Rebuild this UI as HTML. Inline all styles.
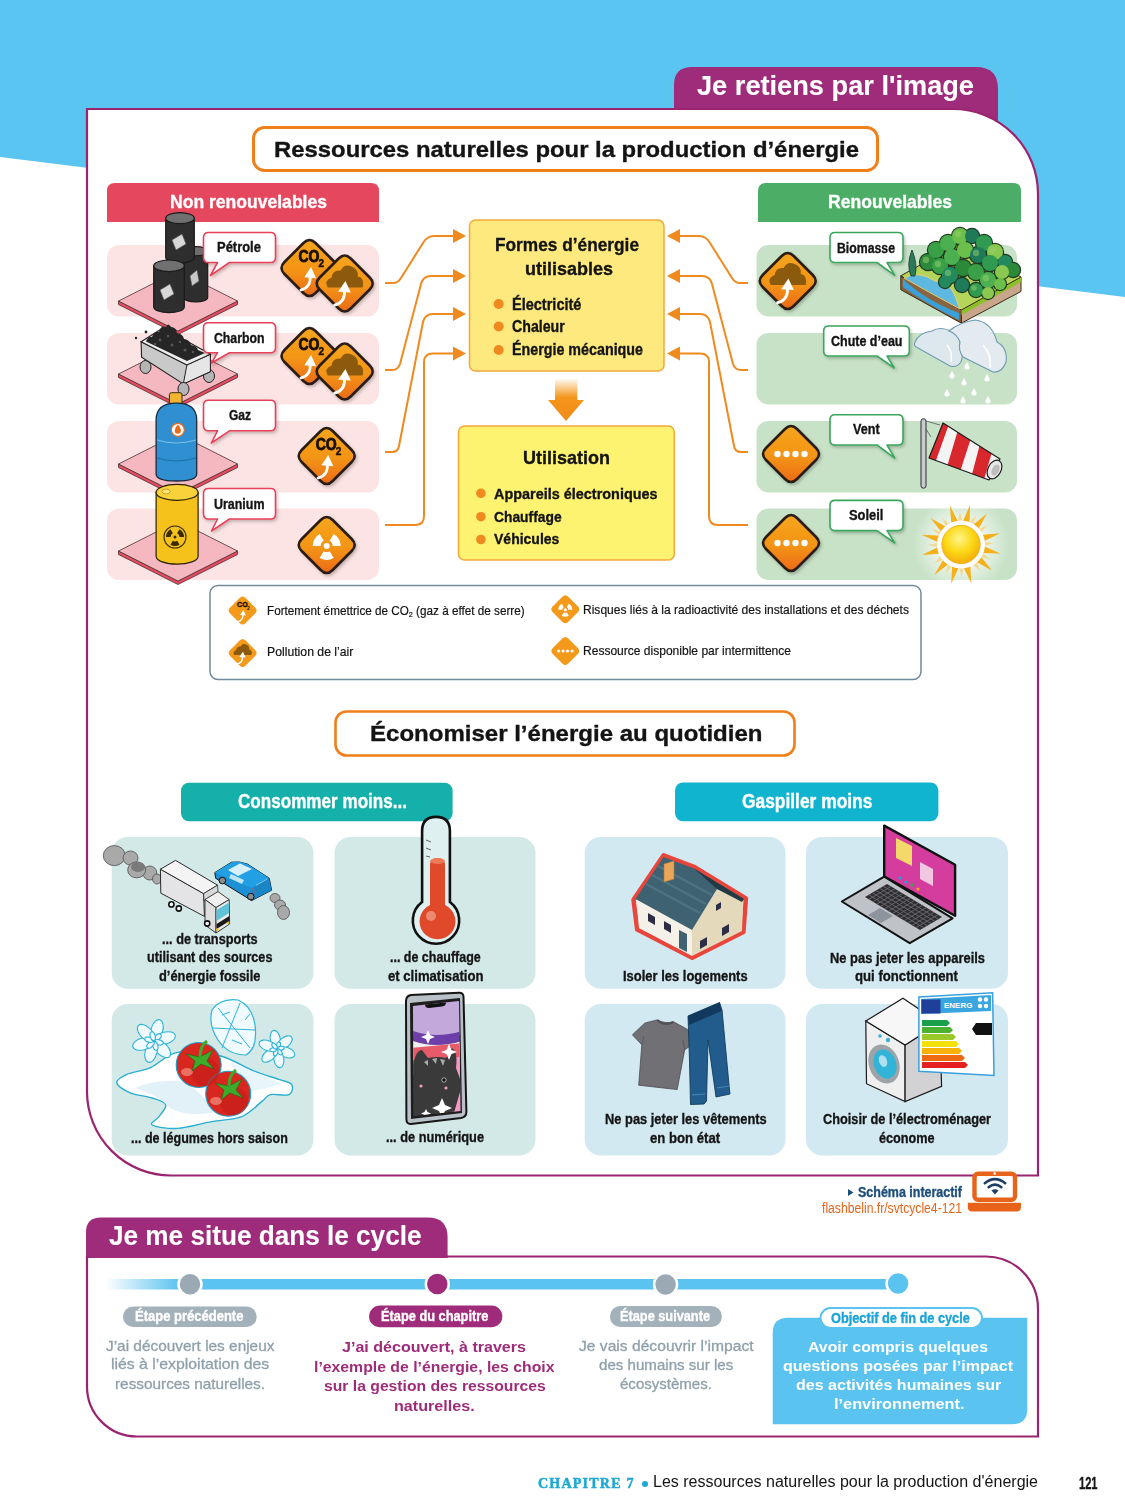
<!DOCTYPE html>
<html><head><meta charset="utf-8">
<style>
*{margin:0;padding:0;box-sizing:border-box}
html,body{width:1125px;height:1500px;overflow:hidden;background:#fff}
body{position:relative;font-family:"Liberation Sans",sans-serif;color:#141414}
.a{position:absolute}
.t{position:absolute;white-space:nowrap;font-weight:bold;line-height:1;transform-origin:0 0;-webkit-text-stroke:0.35px currentColor}
.r{-webkit-text-stroke:0}
.w{color:#fff}
.r{font-weight:normal}
</style></head><body>
<svg class="a" style="left:0;top:0" width="1125" height="1500" viewBox="0 0 1125 1500">
<defs>
  <filter id="sh" x="-20%" y="-20%" width="150%" height="150%"><feDropShadow dx="1.5" dy="2" stdDeviation="1.5" flood-color="#000" flood-opacity="0.22"></feDropShadow></filter>
  <linearGradient id="og" x1="0" y1="0" x2="0" y2="1">
    <stop offset="0" stop-color="#f7a51c"></stop><stop offset="0.55" stop-color="#f39416"></stop><stop offset="1" stop-color="#ec6a12"></stop>
  </linearGradient>
  <linearGradient id="arrg" x1="0" y1="0" x2="0" y2="1">
    <stop offset="0" stop-color="#f4961c" stop-opacity="0"></stop><stop offset="0.45" stop-color="#f4961c"></stop><stop offset="1" stop-color="#f08a18"></stop>
  </linearGradient>
  <linearGradient id="lineg" x1="0" y1="0" x2="1" y2="0">
    <stop offset="0" stop-color="#5bc3ef" stop-opacity="0"></stop><stop offset="1" stop-color="#5bc3ef"></stop>
  </linearGradient>
  <!-- diamond badge 28 half diag, centered at 0,0 -->
  <g id="dia">
    <path d="M0,-28 Q3,-28 6,-25 L25,-6 Q28,-3 28,0 Q28,3 25,6 L6,25 Q3,28 0,28 Q-3,28 -6,25 L-25,6 Q-28,3 -28,0 Q-28,-3 -25,-6 L-6,-25 Q-3,-28 0,-28Z" fill="url(#og)" stroke="#2a1c12" stroke-width="2.6"></path>
  </g>
  <g id="diaf">
    <path d="M0,-28 Q3,-28 6,-25 L25,-6 Q28,-3 28,0 Q28,3 25,6 L6,25 Q3,28 0,28 Q-3,28 -6,25 L-25,6 Q-28,3 -28,0 Q-28,-3 -25,-6 L-6,-25 Q-3,-28 0,-28Z" fill="#f39a1a"></path>
  </g>
  <g id="arrowup">
    <path d="M-9,13 Q3,10 2,-4" fill="none" stroke="#fff" stroke-width="3.2" stroke-linecap="round"></path>
    <path d="M-5,-2 L3,-14 L9,-1Z" fill="#fff"></path>
  </g>
  <g id="cloud">
    <path d="M-17,4 Q-21,-3 -13,-6 Q-12,-14 -4,-13 Q0,-21 9,-16 Q14,-13 13,-7 Q20,-6 18,4Z" fill="#8c5a0c"></path>
  </g>
  <g id="b-co2">
    <use href="#dia"></use>
    <text x="-11" y="-6" font-family="Liberation Sans" font-weight="bold" font-size="16" fill="#1a1208" stroke="#1a1208" stroke-width="0.9" textLength="21" lengthAdjust="spacingAndGlyphs">CO</text>
    <text x="9" y="-1.5" font-family="Liberation Sans" font-weight="bold" font-size="10" fill="#1a1208" stroke="#1a1208" stroke-width="0.5">2</text>
    <g transform="translate(-1,11) scale(0.85)"><use href="#arrowup"></use></g>
  </g>
  <g id="b-cloud">
    <use href="#dia"></use>
    <use href="#cloud"></use>
    <g transform="translate(-2,10) scale(0.9)"><use href="#arrowup"></use></g>
  </g>
  <g id="b-rad">
    <use href="#dia"></use>
    <circle cy="1" r="3" fill="#fff"></circle>
    <g transform="translate(0,1)" fill="#fff">
    <path d="M-3,-5.2 A6,6 0 0 1 3,-5.2 L7,-12.1 A14,14 0 0 0 -7,-12.1Z" transform="rotate(-60)"></path>
    <path d="M-3,-5.2 A6,6 0 0 1 3,-5.2 L7,-12.1 A14,14 0 0 0 -7,-12.1Z" transform="rotate(60)"></path>
    <path d="M-3,-5.2 A6,6 0 0 1 3,-5.2 L7,-12.1 A14,14 0 0 0 -7,-12.1Z" transform="rotate(180)"></path>
    </g>
  </g>
  <g id="b-dots">
    <use href="#dia"></use>
    <circle cx="-13.5" cy="0" r="3.2" fill="#fff"></circle><circle cx="-4.5" cy="0" r="3.2" fill="#fff"></circle><circle cx="4.5" cy="0" r="3.2" fill="#fff"></circle><circle cx="13.5" cy="0" r="3.2" fill="#fff"></circle>
  </g>
</defs>

<!-- blue background -->
<polygon points="0,0 1125,0 1125,297 0,157" fill="#5bc5f1"></polygon>
<!-- tab -->
<path d="M674,137 L674,85 Q674,67 692,67 L976,67 Q998,67 998,89 L998,137Z" fill="#9e2c7a"></path>
<!-- main card -->
<path d="M87,109 L953,109 A85,85 0 0 1 1038,194 L1038,1175.5 L171,1175.5 A84,84 0 0 1 87,1091.5Z" fill="#fff" stroke="#9a2470" stroke-width="2.2"></path>

<!-- title box 1 -->
<rect x="253.5" y="127.5" width="624" height="43" rx="11" fill="#fff" stroke="#f07f1a" stroke-width="3"></rect>

<!-- headers -->
<path d="M107,222 L107,191 Q107,183 115,183 L371,183 Q379,183 379,191 L379,222Z" fill="#e5475f"></path>
<path d="M758,222 L758,191 Q758,183 766,183 L1013,183 Q1021,183 1021,191 L1021,222Z" fill="#4cae66"></path>

<!-- pink rows -->
<rect x="107" y="245" width="272" height="71.5" rx="12" fill="#fde4e4"></rect>
<rect x="107" y="333" width="272" height="71.5" rx="12" fill="#fde4e4"></rect>
<rect x="107" y="421" width="272" height="71.5" rx="12" fill="#fde4e4"></rect>
<rect x="107" y="508.5" width="272" height="71.5" rx="12" fill="#fde4e4"></rect>
<!-- green rows -->
<rect x="756.5" y="245" width="260.5" height="71.5" rx="12" fill="#c8e2c7"></rect>
<rect x="756.5" y="333" width="260.5" height="71.5" rx="12" fill="#c8e2c7"></rect>
<rect x="756.5" y="421" width="260.5" height="71.5" rx="12" fill="#c8e2c7"></rect>
<rect x="756.5" y="508.5" width="260.5" height="71.5" rx="12" fill="#c8e2c7"></rect>

<!-- yellow boxes -->
<rect x="469.5" y="220" width="194.5" height="151" rx="6" fill="#fee97e" stroke="#f3a93a" stroke-width="1.5"></rect>
<rect x="458.5" y="426" width="215.8" height="134" rx="6" fill="#fef271" stroke="#f3a93a" stroke-width="1.5"></rect>
<!-- down arrow -->
<path d="M555,378 L577.3,378 L577.3,400 L584,400 L566,421 L548,400 L555,400Z" fill="url(#arrg)"></path>

<!-- connecting arrows left -->
<g fill="none" stroke="#ef8a1f" stroke-width="2">
  <path d="M385,283 L393,283 Q398,283 401,278 L423,243 Q427,236 434,236 L455,236"></path>
  <path d="M385,370 L392,370 Q398,370 400,364 L421,284 Q423,276 431,276 L455,276"></path>
  <path d="M385,452 L392,452 Q398,452 399,446 L423,322 Q425,314 433,314 L455,314"></path>
  <path d="M385,525 L415,525 Q424,525 424,516 L424,362 Q424,353.5 433,353.5 L455,353.5"></path>
  <path d="M748,283 L740,283 Q735,283 732,278 L710,243 Q706,236 699,236 L678,236"></path>
  <path d="M748,370 L741,370 Q735,370 733,364 L712,284 Q710,276 702,276 L678,276"></path>
  <path d="M748,452 L741,452 Q735,452 734,446 L710,322 Q708,314 700,314 L678,314"></path>
  <path d="M748,525 L718,525 Q709,525 709,516 L709,362 Q709,353.5 700,353.5 L678,353.5"></path>
</g>
<g fill="#ef8a1f">
  <path d="M453,229 L466,236 L453,243Z"></path><path d="M453,269 L466,276 L453,283Z"></path><path d="M453,307 L466,314 L453,321Z"></path><path d="M453,346.5 L466,353.5 L453,360.5Z"></path>
  <path d="M680,229 L667,236 L680,243Z"></path><path d="M680,269 L667,276 L680,283Z"></path><path d="M680,307 L667,314 L680,321Z"></path><path d="M680,346.5 L667,353.5 L680,360.5Z"></path>
</g>
<!-- bullets -->
<g fill="#ef8a1f">
  <circle cx="498.7" cy="304" r="5"></circle><circle cx="498.7" cy="326.5" r="5"></circle><circle cx="498.7" cy="350" r="5"></circle>
  <circle cx="480.9" cy="493.3" r="4.8"></circle><circle cx="480.9" cy="516.7" r="4.8"></circle><circle cx="480.9" cy="539.5" r="4.8"></circle>
</g>

<!-- section1 illustrations -->
<path d="M118.5,301 L178,331 L237.5,301 L237.5,304.5 L178,334.5 L118.5,304.5Z" fill="#e84a62" stroke="#4a3030" stroke-width="0.8"></path>
<path d="M178,271 L237.5,301 L178,331 L118.5,301Z" fill="#f5b8c0" stroke="#4a3030" stroke-width="0.8"></path>
<path d="M118.5,374 L178,404 L237.5,374 L237.5,377.5 L178,407.5 L118.5,377.5Z" fill="#e84a62" stroke="#4a3030" stroke-width="0.8"></path>
<path d="M178,344 L237.5,374 L178,404 L118.5,374Z" fill="#f5b8c0" stroke="#4a3030" stroke-width="0.8"></path>
<path d="M118.5,464 L178,494 L237.5,464 L237.5,467.5 L178,497.5 L118.5,467.5Z" fill="#e84a62" stroke="#4a3030" stroke-width="0.8"></path>
<path d="M178,434 L237.5,464 L178,494 L118.5,464Z" fill="#f5b8c0" stroke="#4a3030" stroke-width="0.8"></path>
<path d="M118.5,551 L178,581 L237.5,551 L237.5,554.5 L178,584.5 L118.5,554.5Z" fill="#e84a62" stroke="#4a3030" stroke-width="0.8"></path>
<path d="M178,521 L237.5,551 L178,581 L118.5,551Z" fill="#f5b8c0" stroke="#4a3030" stroke-width="0.8"></path>
<path d="M183.7,251.26 L183.7,297.44 A12.0,4.5600000000000005 0 0 0 207.7,297.44 L207.7,251.26Z" fill="#2e2e2e" stroke="#1a1a1a" stroke-width="1.2"></path>
<ellipse cx="195.7" cy="251.26" rx="12.0" ry="4.5600000000000005" fill="#6d6d6d" stroke="#1a1a1a" stroke-width="1.2"></ellipse>
<path d="M165.7,218.134 L165.7,257.566 A14.300000000000011,5.434000000000005 0 0 0 194.3,257.566 L194.3,218.134Z" fill="#2e2e2e" stroke="#1a1a1a" stroke-width="1.2"></path>
<ellipse cx="180.0" cy="218.134" rx="14.300000000000011" ry="5.434000000000005" fill="#707070" stroke="#1a1a1a" stroke-width="1.2"></ellipse>
<path d="M153.7,265.814 L153.7,306.88599999999997 A15.300000000000011,5.8140000000000045 0 0 0 184.3,306.88599999999997 L184.3,265.814Z" fill="#2e2e2e" stroke="#1a1a1a" stroke-width="1.2"></path>
<ellipse cx="169.0" cy="265.814" rx="15.300000000000011" ry="5.8140000000000045" fill="#707070" stroke="#1a1a1a" stroke-width="1.2"></ellipse>
<path d="M172,240 L182,234 L186,244 L176,250Z" fill="#d8d8d8" stroke="#555" stroke-width="0.6"></path>
<path d="M160,290 L170,284 L174,294 L164,300Z" fill="#d8d8d8" stroke="#555" stroke-width="0.6"></path>
<path d="M190,276 L197,270 L199,281 L192,286Z" fill="#c8c8c8" stroke="#555" stroke-width="0.6"></path>
<ellipse cx="145.5" cy="367" rx="5.5" ry="6.5" fill="#b5b5b5" stroke="#222" stroke-width="1"></ellipse>
<ellipse cx="209" cy="376" rx="5.5" ry="6.5" fill="#b5b5b5" stroke="#222" stroke-width="1"></ellipse>
<path d="M141.1,341.8 L186.9,364.9 L210.4,354.2 L210.4,371.6 L183.3,384 L141.6,357.3Z" fill="#c9c9c9" stroke="#222" stroke-width="1.1"></path>
<path d="M186.9,364.9 L210.4,354.2 L210.4,371.6 L183.3,384Z" fill="#e6e6e6" stroke="#222" stroke-width="1"></path>
<path d="M141.1,341.8 L162.9,328 L210.4,354.2 L186.9,364.9Z" fill="#eeeeee" stroke="#222" stroke-width="1.1"></path>
<path d="M146,341.5 Q148,336 152,337 Q154,331 159,332 Q161,325 166,327 Q168,322 171,327 Q176,327 177,333 Q183,334 184,339 Q190,340 191,345 Q197,346 198,350 L205,353 L187,361Z" fill="#262626"></path><g fill="#555"><circle cx="160" cy="340" r="1.5"></circle><circle cx="172" cy="345" r="1.5"></circle><circle cx="185" cy="350" r="1.5"></circle><circle cx="168" cy="336" r="1.2"></circle><circle cx="180" cy="342" r="1.2"></circle><circle cx="193" cy="352" r="1.2"></circle><circle cx="155" cy="344" r="1.2"></circle></g>
<circle cx="136" cy="338" r="1.2" fill="#222"></circle><circle cx="146" cy="332" r="1.4" fill="#222"></circle>
<ellipse cx="183.5" cy="389" rx="5.5" ry="6.5" fill="#b5b5b5" stroke="#222" stroke-width="1"></ellipse>
<rect x="169.4" y="392.7" width="12.6" height="20" rx="2" fill="#f1b431" stroke="#3a2a10" stroke-width="1"></rect>
<path d="M156.1,474 L156.1,420 Q156.1,403.2 176.4,403.2 Q196.7,403.2 196.7,420 L196.7,474 Q196.7,481 176.4,481 Q156.1,481 156.1,474Z" fill="#2f8fd0" stroke="#1a2a3a" stroke-width="1.3"></path>
<path d="M157,440 Q176,446 196,440" fill="none" stroke="#7cc3ec" stroke-width="1"></path>
<path d="M157,458 Q176,464 196,458" fill="none" stroke="#1d6fa8" stroke-width="1"></path>
<circle cx="177.8" cy="429.8" r="6.5" fill="#fff" stroke="#ec6a1a" stroke-width="1.2"></circle>
<path d="M177.8,424.5 Q182,429 180.5,432.5 Q177.8,435 175,432.5 Q174,429 177.8,424.5Z" fill="#ec6a1a"></path>
<path d="M156.1,492.38 L156.1,556.22 A21.0,7.98 0 0 0 198.1,556.22 L198.1,492.38Z" fill="#f4c21a" stroke="#2a2000" stroke-width="1.2"></path>
<ellipse cx="177.1" cy="492.38" rx="21.0" ry="7.98" fill="#f7d23a" stroke="#2a2000" stroke-width="1.2"></ellipse>
<ellipse cx="166" cy="491.5" rx="4" ry="2.5" fill="#fbe27a" stroke="#a88400" stroke-width="0.6"></ellipse>
<circle cx="175" cy="537" r="11" fill="none" stroke="#3a2c00" stroke-width="1.1"></circle>
<g fill="#3a2c00" transform="translate(175,537)">
<circle r="1.5"></circle>
<path d="M-2.2,-3.8 A4.4,4.4 0 0 1 2.2,-3.8 L4.5,-7.8 A9,9 0 0 0 -4.5,-7.8Z" transform="rotate(-60)"></path>
<path d="M-2.2,-3.8 A4.4,4.4 0 0 1 2.2,-3.8 L4.5,-7.8 A9,9 0 0 0 -4.5,-7.8Z" transform="rotate(60)"></path>
<path d="M-2.2,-3.8 A4.4,4.4 0 0 1 2.2,-3.8 L4.5,-7.8 A9,9 0 0 0 -4.5,-7.8Z" transform="rotate(180)"></path>
</g>
<path d="M208.5,232.5 L270.5,232.5 Q275.5,232.5 275.5,237.5 L275.5,257.5 Q275.5,262.5 270.5,262.5 L229.5,262.5 L210.5,275.5 L217.5,262.5 L208.5,262.5 Q203.5,262.5 203.5,257.5 L203.5,237.5 Q203.5,232.5 208.5,232.5Z" fill="#fff" stroke="#e5425a" stroke-width="1.6" stroke-linejoin="round" filter="url(#sh)"></path>
<path d="M208.5,322.7 L270.5,322.7 Q275.5,322.7 275.5,327.7 L275.5,347.7 Q275.5,352.7 270.5,352.7 L229.5,352.7 L211.5,363 L217.5,352.7 L208.5,352.7 Q203.5,352.7 203.5,347.7 L203.5,327.7 Q203.5,322.7 208.5,322.7Z" fill="#fff" stroke="#e5425a" stroke-width="1.6" stroke-linejoin="round" filter="url(#sh)"></path>
<path d="M208.5,400.3 L270.5,400.3 Q275.5,400.3 275.5,405.3 L275.5,425.8 Q275.5,430.8 270.5,430.8 L229.5,430.8 L211.3,443 L217.5,430.8 L208.5,430.8 Q203.5,430.8 203.5,425.8 L203.5,405.3 Q203.5,400.3 208.5,400.3Z" fill="#fff" stroke="#e5425a" stroke-width="1.6" stroke-linejoin="round" filter="url(#sh)"></path>
<path d="M208.5,488.5 L270.5,488.5 Q275.5,488.5 275.5,493.5 L275.5,514 Q275.5,519 270.5,519 L229.5,519 L211.5,531 L217.5,519 L208.5,519 Q203.5,519 203.5,514 L203.5,493.5 Q203.5,488.5 208.5,488.5Z" fill="#fff" stroke="#e5425a" stroke-width="1.6" stroke-linejoin="round" filter="url(#sh)"></path>
<path d="M835,232.5 L898,232.5 Q903,232.5 903,237.5 L903,257.5 Q903,262.5 898,262.5 L887,262.5 L894.8,275.3 L877,262.5 L835,262.5 Q830,262.5 830,257.5 L830,237.5 Q830,232.5 835,232.5Z" fill="#fff" stroke="#3aa65c" stroke-width="1.6" stroke-linejoin="round" filter="url(#sh)"></path>
<path d="M828.7,326 L904.3,326 Q909.3,326 909.3,331 L909.3,351 Q909.3,356 904.3,356 L887,356 L894.3,368 L877,356 L828.7,356 Q823.7,356 823.7,351 L823.7,331 Q823.7,326 828.7,326Z" fill="#fff" stroke="#3aa65c" stroke-width="1.6" stroke-linejoin="round" filter="url(#sh)"></path>
<path d="M835,414.8 L898,414.8 Q903,414.8 903,419.8 L903,440 Q903,445 898,445 L887,445 L894.8,458.2 L877,445 L835,445 Q830,445 830,440 L830,419.8 Q830,414.8 835,414.8Z" fill="#fff" stroke="#3aa65c" stroke-width="1.6" stroke-linejoin="round" filter="url(#sh)"></path>
<path d="M835,500.4 L898,500.4 Q903,500.4 903,505.4 L903,525.6 Q903,530.6 898,530.6 L887,530.6 L894.8,543 L877,530.6 L835,530.6 Q830,530.6 830,525.6 L830,505.4 Q830,500.4 835,500.4Z" fill="#fff" stroke="#3aa65c" stroke-width="1.6" stroke-linejoin="round" filter="url(#sh)"></path>
<!-- right illustrations -->
<!-- forest block -->
<path d="M900.8,275.8 L961.4,310 L961.4,323.2 L900.8,289.7Z" fill="#8a6440" stroke="#3a2a1a" stroke-width="1"></path>
<path d="M903,279 Q925,300 959,313 L959,320 Q925,303 903,287Z" fill="#3aa0d8"></path>
<path d="M961.4,310 L1021,277 L1021,291.4 L961.4,323.2Z" fill="#c9a68a" stroke="#3a2a1a" stroke-width="1"></path>
<path d="M961.4,310 L1021,277 L1021,282 L961.4,315Z" fill="#8cbf2a"></path>
<path d="M900.8,275.8 L961,242 L1021,277 L961.4,310Z" fill="#b5d45a" stroke="#3a2a1a" stroke-width="1"></path>
<path d="M904,278 Q918,270 935,281 Q950,282 955,296 Q958,304 960,309 Q930,293 904,278Z" fill="#5fb8e0" stroke="#e8d070" stroke-width="1"></path>
<circle cx="928" cy="262" r="9.2" fill="#203a20"></circle><circle cx="936" cy="250" r="9.2" fill="#203a20"></circle><circle cx="948" cy="243" r="9.2" fill="#203a20"></circle><circle cx="960" cy="236" r="9.2" fill="#203a20"></circle><circle cx="972" cy="236" r="8.2" fill="#203a20"></circle><circle cx="984" cy="243" r="9.2" fill="#203a20"></circle><circle cx="995" cy="252" r="9.2" fill="#203a20"></circle><circle cx="1005" cy="262" r="8.2" fill="#203a20"></circle><circle cx="1013" cy="270" r="8.2" fill="#203a20"></circle><circle cx="940" cy="266" r="9.2" fill="#203a20"></circle><circle cx="952" cy="257" r="9.2" fill="#203a20"></circle><circle cx="965" cy="250" r="9.2" fill="#203a20"></circle><circle cx="978" cy="255" r="9.2" fill="#203a20"></circle><circle cx="990" cy="263" r="9.2" fill="#203a20"></circle><circle cx="1002" cy="272" r="8.2" fill="#203a20"></circle><circle cx="950" cy="275" r="9.2" fill="#203a20"></circle><circle cx="963" cy="268" r="9.2" fill="#203a20"></circle><circle cx="976" cy="272" r="9.2" fill="#203a20"></circle><circle cx="988" cy="280" r="9.2" fill="#203a20"></circle><circle cx="1000" cy="284" r="7.2" fill="#203a20"></circle><circle cx="962" cy="285" r="8.2" fill="#203a20"></circle><circle cx="976" cy="290" r="8.2" fill="#203a20"></circle><circle cx="988" cy="293" r="7.2" fill="#203a20"></circle><circle cx="945" cy="282" r="7.2" fill="#203a20"></circle><circle cx="928" cy="262" r="8" fill="#2a8a3a"></circle><circle cx="936" cy="250" r="8" fill="#3aa048"></circle><circle cx="948" cy="243" r="8" fill="#4cb050"></circle><circle cx="960" cy="236" r="8" fill="#6cbf4a"></circle><circle cx="972" cy="236" r="7" fill="#1f7a5a"></circle><circle cx="984" cy="243" r="8" fill="#2f9a50"></circle><circle cx="995" cy="252" r="8" fill="#8ac850"></circle><circle cx="1005" cy="262" r="7" fill="#238a60"></circle><circle cx="1013" cy="270" r="7" fill="#2a8a3a"></circle><circle cx="940" cy="266" r="8" fill="#3aa048"></circle><circle cx="952" cy="257" r="8" fill="#4cb050"></circle><circle cx="965" cy="250" r="8" fill="#6cbf4a"></circle><circle cx="978" cy="255" r="8" fill="#1f7a5a"></circle><circle cx="990" cy="263" r="8" fill="#2f9a50"></circle><circle cx="1002" cy="272" r="7" fill="#8ac850"></circle><circle cx="950" cy="275" r="8" fill="#238a60"></circle><circle cx="963" cy="268" r="8" fill="#2a8a3a"></circle><circle cx="976" cy="272" r="8" fill="#3aa048"></circle><circle cx="988" cy="280" r="8" fill="#4cb050"></circle><circle cx="1000" cy="284" r="6" fill="#6cbf4a"></circle><circle cx="962" cy="285" r="7" fill="#1f7a5a"></circle><circle cx="976" cy="290" r="7" fill="#2f9a50"></circle><circle cx="988" cy="293" r="6" fill="#8ac850"></circle><circle cx="945" cy="282" r="6" fill="#238a60"></circle><circle cx="926" cy="260" r="3.2" fill="#9ad070" opacity="0.5"></circle><circle cx="958" cy="234" r="3.2" fill="#9ad070" opacity="0.5"></circle><circle cx="993" cy="250" r="3.2" fill="#9ad070" opacity="0.5"></circle><circle cx="938" cy="264" r="3.2" fill="#9ad070" opacity="0.5"></circle><circle cx="976" cy="253" r="3.2" fill="#9ad070" opacity="0.5"></circle><circle cx="948" cy="273" r="3.2" fill="#9ad070" opacity="0.5"></circle><circle cx="986" cy="278" r="3.2" fill="#9ad070" opacity="0.5"></circle><circle cx="974" cy="288" r="2.8000000000000003" fill="#9ad070" opacity="0.5"></circle>
<path d="M911,276 Q906,264 912,250 Q918,264 915,276Z" fill="#2a7a5a" stroke="#1a3a2a" stroke-width="0.8"></path>
<!-- clouds + rain -->
<g fill="#fff"><path d="M952,371 Q955,376 954.6,377.2 Q952,380 949.4,377.2 Q949,376 952,371Z"></path><path d="M967,362 Q970,367 969.6,368.2 Q967,371 964.4,368.2 Q964,367 967,362Z"></path><path d="M964,378 Q967,383 966.6,384.2 Q964,387 961.4,384.2 Q961,383 964,378Z"></path><path d="M987,374 Q990,379 989.6,380.2 Q987,383 984.4,380.2 Q984,379 987,374Z"></path><path d="M974,388 Q977,393 976.6,394.2 Q974,397 971.4,394.2 Q971,393 974,388Z"></path><path d="M947,389 Q950,394 949.6,395.2 Q947,398 944.4,395.2 Q944,394 947,389Z"></path><path d="M963,396 Q966,401 965.6,402.2 Q963,405 960.4,402.2 Q960,401 963,396Z"></path><path d="M988,396 Q991,401 990.6,402.2 Q988,405 985.4,402.2 Q985,401 988,396Z"></path></g>
<path d="M914.8,342.4 Q918,333 932,331 Q940,326 951,331 Q962,336 960,350 Q964,354 961,362 Q957,368 950,366 L918,348 Q913,346 914.8,342.4Z" fill="#dde7ee" stroke="#6d9bb0" stroke-width="1.1"></path>
<path d="M949,331 Q960,322 975,320 Q992,322 997,342 Q1008,348 1006,362 Q1002,373 993,372 L963,357 Q958,350 960,342 Q957,334 949,331Z" fill="#e3ebf1" stroke="#6d9bb0" stroke-width="1.1"></path>
<path d="M983,345 Q992,355 990,368" fill="none" stroke="#fff" stroke-width="1.5"></path>
<path d="M947,345 Q953,352 951,362" fill="none" stroke="#fff" stroke-width="1.3"></path>
<!-- windsock -->
<rect x="921" y="418.7" width="5" height="69.5" rx="2.5" fill="#c8ccd0" stroke="#2a2a2a" stroke-width="1"></rect>
<path d="M926,421 L940,425 M926,429 L931,437" stroke="#555" stroke-width="0.8"></path>
<defs><clipPath id="sockclip"><path d="M943,423 L1000,459 L989,480 L929,458Z"></path></clipPath></defs>
<path d="M943,423 L1000,459 L989,480 L929,458Z" fill="#f4f4f4"></path>
<g clip-path="url(#sockclip)" fill="#d8282e">
<path d="M935,415 L949,424 L934,466 L920,461Z"></path>
<path d="M958,430 L971,438 L959,475 L946,470Z"></path>
<path d="M980,444 L992,452 L983,483 L971,478Z"></path>
</g>
<path d="M943,423 L1000,459 L989,480 L929,458Z" fill="none" stroke="#1a1a1a" stroke-width="1.2" stroke-linejoin="round"></path>
<ellipse cx="994.5" cy="469.5" rx="6.5" ry="10" transform="rotate(28 994.5 469.5)" fill="#e8e8e8" stroke="#1a1a1a" stroke-width="1.2"></ellipse>
<ellipse cx="995.5" cy="470" rx="3.5" ry="6" transform="rotate(28 995.5 470)" fill="#bdbdbd"></ellipse>
<!-- sun -->
<radialGradient id="sunglow" cx="0.5" cy="0.5" r="0.5"><stop offset="0.3" stop-color="#fff" stop-opacity="0.9"></stop><stop offset="1" stop-color="#fff" stop-opacity="0"></stop></radialGradient>
<circle cx="961" cy="544" r="48" fill="url(#sunglow)"></circle>
<g transform="translate(961,544.5)"><path d="M-3.8,-21 L0,-40.5 L3.8,-21Z" fill="#f5b01a" transform="rotate(-16)"></path><path d="M-2.5,-22 L0,-33 L2.5,-22Z" fill="#f8d070" opacity="0.7" transform="rotate(-2)"></path><path d="M-3.8,-21 L0,-40.5 L3.8,-21Z" fill="#f5b01a" transform="rotate(13)"></path><path d="M-2.5,-22 L0,-33 L2.5,-22Z" fill="#f8d070" opacity="0.7" transform="rotate(27)"></path><path d="M-3.8,-21 L0,-40.5 L3.8,-21Z" fill="#f5b01a" transform="rotate(40)"></path><path d="M-2.5,-22 L0,-33 L2.5,-22Z" fill="#f8d070" opacity="0.7" transform="rotate(54)"></path><path d="M-3.8,-21 L0,-40.5 L3.8,-21Z" fill="#f5b01a" transform="rotate(74)"></path><path d="M-2.5,-22 L0,-33 L2.5,-22Z" fill="#f8d070" opacity="0.7" transform="rotate(88)"></path><path d="M-3.8,-21 L0,-40.5 L3.8,-21Z" fill="#f5b01a" transform="rotate(103)"></path><path d="M-2.5,-22 L0,-33 L2.5,-22Z" fill="#f8d070" opacity="0.7" transform="rotate(117)"></path><path d="M-3.8,-21 L0,-40.5 L3.8,-21Z" fill="#f5b01a" transform="rotate(130)"></path><path d="M-2.5,-22 L0,-33 L2.5,-22Z" fill="#f8d070" opacity="0.7" transform="rotate(144)"></path><path d="M-3.8,-21 L0,-40.5 L3.8,-21Z" fill="#f5b01a" transform="rotate(165)"></path><path d="M-2.5,-22 L0,-33 L2.5,-22Z" fill="#f8d070" opacity="0.7" transform="rotate(179)"></path><path d="M-3.8,-21 L0,-40.5 L3.8,-21Z" fill="#f5b01a" transform="rotate(194)"></path><path d="M-2.5,-22 L0,-33 L2.5,-22Z" fill="#f8d070" opacity="0.7" transform="rotate(208)"></path><path d="M-3.8,-21 L0,-40.5 L3.8,-21Z" fill="#f5b01a" transform="rotate(221)"></path><path d="M-2.5,-22 L0,-33 L2.5,-22Z" fill="#f8d070" opacity="0.7" transform="rotate(235)"></path><path d="M-3.8,-21 L0,-40.5 L3.8,-21Z" fill="#f5b01a" transform="rotate(255)"></path><path d="M-2.5,-22 L0,-33 L2.5,-22Z" fill="#f8d070" opacity="0.7" transform="rotate(269)"></path><path d="M-3.8,-21 L0,-40.5 L3.8,-21Z" fill="#f5b01a" transform="rotate(284)"></path><path d="M-2.5,-22 L0,-33 L2.5,-22Z" fill="#f8d070" opacity="0.7" transform="rotate(298)"></path><path d="M-3.8,-21 L0,-40.5 L3.8,-21Z" fill="#f5b01a" transform="rotate(311)"></path><path d="M-2.5,-22 L0,-33 L2.5,-22Z" fill="#f8d070" opacity="0.7" transform="rotate(325)"></path></g>
<circle cx="961" cy="544.5" r="24" fill="#fff"></circle>
<radialGradient id="sung" cx="0.45" cy="0.35" r="0.6"><stop offset="0" stop-color="#fff48a"></stop><stop offset="0.6" stop-color="#fbd815"></stop><stop offset="1" stop-color="#f4b40c"></stop></radialGradient>
<circle cx="961" cy="544.5" r="19.2" fill="url(#sung)" stroke="#f0a818" stroke-width="0.8"></circle>
<!-- badges -->
<use filter="url(#sh)" href="#b-co2" x="309.5" y="268"></use>
<use filter="url(#sh)" href="#b-cloud" x="344.7" y="283.5"></use>
<use filter="url(#sh)" href="#b-co2" x="309.5" y="356"></use>
<use filter="url(#sh)" href="#b-cloud" x="344.7" y="371.5"></use>
<use filter="url(#sh)" href="#b-co2" x="326.7" y="456"></use>
<use filter="url(#sh)" href="#b-rad" x="326.7" y="545"></use>
<use filter="url(#sh)" href="#b-cloud" x="787.7" y="281"></use>
<use filter="url(#sh)" href="#b-dots" x="791" y="454"></use>
<use filter="url(#sh)" href="#b-dots" x="791" y="543"></use>

<!-- legend -->
<rect x="210" y="585.5" width="711" height="94" rx="8" fill="#fff" stroke="#6f8a99" stroke-width="1.5"></rect>
<g transform="translate(242.6,610.4) scale(0.5)"><use href="#diaf"></use><text x="-11" y="-6" font-family="Liberation Sans" font-weight="bold" font-size="16" fill="#1a1208" stroke="#1a1208" stroke-width="0.9" textLength="21" lengthAdjust="spacingAndGlyphs">CO</text><text x="9" y="-1.5" font-family="Liberation Sans" font-weight="bold" font-size="10" fill="#1a1208">2</text><g transform="translate(-1,11) scale(0.85)"><use href="#arrowup"></use></g></g>
<g transform="translate(242.6,653) scale(0.5)"><use href="#diaf"></use><use href="#cloud"></use><g transform="translate(-2,10) scale(0.9)"><use href="#arrowup"></use></g></g>
<g transform="translate(565.3,609.3) scale(0.5)"><use href="#diaf"></use><circle cy="1" r="3" fill="#fff"></circle><g transform="translate(0,1)" fill="#fff"><path d="M-3,-5.2 A6,6 0 0 1 3,-5.2 L7,-12.1 A14,14 0 0 0 -7,-12.1Z" transform="rotate(-60)"></path><path d="M-3,-5.2 A6,6 0 0 1 3,-5.2 L7,-12.1 A14,14 0 0 0 -7,-12.1Z" transform="rotate(60)"></path><path d="M-3,-5.2 A6,6 0 0 1 3,-5.2 L7,-12.1 A14,14 0 0 0 -7,-12.1Z" transform="rotate(180)"></path></g></g>
<g transform="translate(565.3,651) scale(0.5)"><use href="#diaf"></use><circle cx="-13.5" cy="0" r="3.2" fill="#fff"></circle><circle cx="-4.5" cy="0" r="3.2" fill="#fff"></circle><circle cx="4.5" cy="0" r="3.2" fill="#fff"></circle><circle cx="13.5" cy="0" r="3.2" fill="#fff"></circle></g>

<!-- section 2 -->
<rect x="335.5" y="711.5" width="459" height="44" rx="11" fill="#fff" stroke="#f07f1a" stroke-width="2.6"></rect>
<rect x="181" y="782.7" width="271.6" height="38.6" rx="8" fill="#16b0aa"></rect>
<rect x="675" y="782.5" width="263.4" height="38.8" rx="8" fill="#10b4cf"></rect>
<rect x="111.7" y="837" width="201.8" height="151.7" rx="16" fill="#d3e9e8"></rect>
<rect x="334.5" y="837" width="201" height="151.7" rx="16" fill="#d3e9e8"></rect>
<rect x="584.7" y="837" width="200.8" height="151.7" rx="16" fill="#d3e9f1"></rect>
<rect x="806" y="837" width="202" height="151.7" rx="16" fill="#d3e9f1"></rect>
<rect x="111.7" y="1004" width="201.8" height="151.4" rx="16" fill="#d3e9e8"></rect>
<rect x="334.5" y="1004" width="201" height="151.4" rx="16" fill="#d3e9e8"></rect>
<rect x="584.7" y="1004" width="200.8" height="151.4" rx="16" fill="#d3e9f1"></rect>
<rect x="806" y="1004" width="202" height="151.4" rx="16" fill="#d3e9f1"></rect>
<!-- S2 illustrations -->
<!-- smoke + truck + car -->
<g fill="#a9a9a9" stroke="#5a5a5a" stroke-width="0.9">
<ellipse cx="114.3" cy="855.6" rx="11" ry="10"></ellipse>
<ellipse cx="130.5" cy="858" rx="7.5" ry="7"></ellipse>
<ellipse cx="149.8" cy="873" rx="7" ry="7"></ellipse>
<ellipse cx="136.7" cy="869.9" rx="9" ry="8"></ellipse>
<ellipse cx="157" cy="879" rx="4.5" ry="5"></ellipse>
<ellipse cx="275" cy="898" rx="5" ry="4.5"></ellipse>
<ellipse cx="280" cy="905" rx="5.5" ry="5"></ellipse>
<ellipse cx="283.5" cy="912.5" rx="6" ry="7"></ellipse>
</g>
<ellipse cx="138" cy="867" rx="7" ry="5" fill="#7a7a7a"></ellipse>
<path d="M160.4,869.2 L203.6,893.6 L204.4,916.4 L160.8,893.2Z" fill="#e4e4e6" stroke="#2a2a2a" stroke-width="1"></path>
<path d="M160.4,869.2 L175.6,860.4 L217.6,885.2 L203.6,893.6Z" fill="#f4f4f5" stroke="#2a2a2a" stroke-width="1"></path>
<path d="M203.6,893.6 L217.6,885.2 L218,893 L204,901Z" fill="#d8d8da" stroke="#2a2a2a" stroke-width="0.8"></path>
<path d="M205,899.5 L218,891.6 L229.2,899.6 L216,907.6Z" fill="#f0f0f0" stroke="#2a2a2a" stroke-width="0.9"></path>
<path d="M205,899.5 L216,907.6 L216,933 L205,925Z" fill="#dedede" stroke="#2a2a2a" stroke-width="0.9"></path>
<path d="M216,907.6 L229.2,899.6 L229.6,924 L216,933Z" fill="#eaeaea" stroke="#2a2a2a" stroke-width="0.9"></path>
<path d="M216.5,910 L229,902.5 L229,913 L216.5,921Z" fill="#5fc3d8"></path>
<path d="M216.5,924 L229.4,916 L229.5,921 L216.5,929Z" fill="#1a1a1a"></path>
<circle cx="217.5" cy="929.5" r="1.3" fill="#f5c400"></circle><circle cx="228" cy="923" r="1.3" fill="#f5c400"></circle>
<g fill="#fff" stroke="#111" stroke-width="1.6"><circle cx="171.4" cy="904.4" r="2.6"></circle><circle cx="178.8" cy="908.5" r="2.6"></circle><circle cx="207.2" cy="923.5" r="2.6"></circle></g>
<path d="M214.8,872.6 L231.6,862.2 Q240,861 247.6,864.2 L269.2,878.2 L271.6,890.2 L251.6,900.6 L215.6,878.2Z" fill="#1d8fd4" stroke="#111" stroke-width="1"></path>
<path d="M214.8,872.6 L231.6,862.2 Q240,861 247.6,864.2 L269.2,878.2 L252,888 Z" fill="#23a0e4"></path>
<path d="M228,870 L240,863.5 L252,869 L238,876Z" fill="#d8f0fb"></path>
<path d="M231,874 L244,880 L242,884 L229,878Z" fill="#bfe6f7"></path>
<path d="M256,885 L267,879 L268,884 L257,890Z" fill="#bfe6f7"></path>
<path d="M252,888 L269.2,878.2 L271.6,890.2 L251.6,900.6Z" fill="#1b86c6"></path>
<path d="M253,888 L254,893" stroke="#e84a3a" stroke-width="1.2"></path>
<g fill="#8a8a8a" stroke="#111" stroke-width="1"><circle cx="222.4" cy="880.6" r="3.3"></circle><circle cx="250.8" cy="896.6" r="3.3"></circle></g>
<!-- thermometer -->
<path d="M422.1,830.9 Q422.1,816.9 436,816.9 Q449.9,816.9 449.9,830.9 L449.9,902 A23.2,23.2 0 1 1 422.1,902Z" fill="#dff0f1" stroke="#111" stroke-width="2.6"></path>
<path d="M430,866 Q430,858 437.5,858 Q445,858 445,866 L445,905 A18,18 0 1 1 430,905Z" fill="#e04a2a"></path>
<ellipse cx="437.5" cy="861" rx="7.5" ry="3" fill="#ee7a58"></ellipse>
<circle cx="431" cy="916" r="5" fill="#f4a58f" opacity="0.7"></circle>
<g stroke="#555" stroke-width="0.9"><path d="M426,840 L431,842"></path><path d="M426,848 L431,850"></path><path d="M426,856 L430,857"></path></g>
<!-- house -->
<path d="M633.5,899.7 L663.6,855.3 L694.7,867.1 L745.9,898.5 L743.4,932.1 L692.2,957.8 L637.2,929.6Z" fill="#f6f1e8" stroke="#e8453c" stroke-width="4.5" stroke-linejoin="round"></path>
<path d="M637,901 L692,930 L692,956 L639,928Z" fill="#f6f1e8"></path>
<path d="M692,930 L717,889 L743,902 L742,931 L692,956Z" fill="#e4d9ba"></path>
<path d="M635.5,899 L663.6,857 L694,868.5 L744,899 L717,889 L692,930Z" fill="#3e6272"></path>
<path d="M694,868.5 L744,899 L742,902 L717,889Z" fill="#223a44"></path>
<g stroke="#5a8090" stroke-width="2" opacity="0.6"><path d="M646,884 L700,913"></path><path d="M652,875 L706,904"></path><path d="M658,866 L712,895"></path></g>
<path d="M664,864 L674,861 L674,879 L664,882Z" fill="#e9a65a" stroke="#b97a30" stroke-width="0.6"></path>
<g fill="#2b2e45"><path d="M648,913 L655,917 L655,925 L648,921Z"></path><path d="M664,921 L671,925 L671,933 L664,929Z"></path><path d="M700,941 L707,937 L707,945 L700,949Z"></path><path d="M722,928 L729,924 L729,932 L722,936Z"></path><path d="M716,905 L721,902 L721,908 L716,911Z"></path></g>
<path d="M679,930 L687,934 L687,952 L679,948Z" fill="#3e6272"></path>
<!-- laptop -->
<path d="M884.2,825.6 L955.1,864.8 L955.1,915.8 L884.2,876.6Z" fill="#d43d9e" stroke="#111" stroke-width="2.4" stroke-linejoin="round"></path>
<path d="M896,838 L912,846 L912,866 L896,858Z" fill="#f5d86a"></path>
<path d="M920,862 L933,869 L933,886 L920,879Z" fill="#f0c6e0"></path>
<g fill="#1fa0d8"><circle cx="900" cy="878" r="1.6"></circle><circle cx="906" cy="882" r="1.6"></circle><circle cx="912" cy="885" r="1.6" fill="#2ab04a"></circle><circle cx="918" cy="889" r="1.6" fill="#f5a020"></circle></g>
<path d="M841.8,901.5 L884.2,876.6 L952.6,918.3 L909.7,943.2Z" fill="#bfc3c8" stroke="#111" stroke-width="2" stroke-linejoin="round"></path>
<path d="M865,897 L887,884 L942,917 L920,930Z" fill="#2e2e30"></path><path d="M868.7,894.8 L923.7,927.8" stroke="#6a6a70" stroke-width="0.9"></path><path d="M872.3,892.7 L927.3,925.7" stroke="#6a6a70" stroke-width="0.9"></path><path d="M876.0,890.5 L931.0,923.5" stroke="#6a6a70" stroke-width="0.9"></path><path d="M879.7,888.3 L934.7,921.3" stroke="#6a6a70" stroke-width="0.9"></path><path d="M883.3,886.2 L938.3,919.2" stroke="#6a6a70" stroke-width="0.9"></path><path d="M868.9,899.4 L890.9,886.4" stroke="#6a6a70" stroke-width="0.9"></path><path d="M872.9,901.7 L894.9,888.7" stroke="#6a6a70" stroke-width="0.9"></path><path d="M876.8,904.1 L898.8,891.1" stroke="#6a6a70" stroke-width="0.9"></path><path d="M880.7,906.4 L902.7,893.4" stroke="#6a6a70" stroke-width="0.9"></path><path d="M884.6,908.8 L906.6,895.8" stroke="#6a6a70" stroke-width="0.9"></path><path d="M888.6,911.1 L910.6,898.1" stroke="#6a6a70" stroke-width="0.9"></path><path d="M892.5,913.5 L914.5,900.5" stroke="#6a6a70" stroke-width="0.9"></path><path d="M896.4,915.9 L918.4,902.9" stroke="#6a6a70" stroke-width="0.9"></path><path d="M900.4,918.2 L922.4,905.2" stroke="#6a6a70" stroke-width="0.9"></path><path d="M904.3,920.6 L926.3,907.6" stroke="#6a6a70" stroke-width="0.9"></path><path d="M908.2,922.9 L930.2,909.9" stroke="#6a6a70" stroke-width="0.9"></path><path d="M912.1,925.3 L934.1,912.3" stroke="#6a6a70" stroke-width="0.9"></path><path d="M916.1,927.6 L938.1,914.6" stroke="#6a6a70" stroke-width="0.9"></path>
<path d="M868,915 L880,908 L893,916 L881,923Z" fill="#8d949b"></path>
<!-- snow + tomatoes + flakes -->
<path d="M116.8,1082.8 C116.2,1079.7 121.3,1076.9 126.9,1074.3 C132.5,1071.8 142.1,1071.2 150.5,1067.6 C159.0,1063.9 166.0,1054.3 177.6,1052.4 C189.1,1050.4 207.1,1052.6 219.8,1055.7 C232.5,1058.8 243.7,1067.0 253.6,1070.9 C263.4,1074.9 272.6,1077.1 278.9,1079.4 C285.3,1081.6 289.9,1081.9 291.6,1084.5 C293.3,1087.0 292.6,1092.9 289.1,1094.6 C285.5,1096.3 275.0,1093.5 270.5,1094.6 C266.0,1095.7 266.8,1097.7 262.0,1101.4 C257.2,1105.0 250.2,1113.2 241.8,1116.6 C233.3,1119.9 222.0,1119.7 211.4,1121.6 C200.7,1123.6 187.4,1127.8 177.6,1128.4 C167.7,1128.9 155.3,1127.0 152.2,1125.0 C149.1,1123.0 156.7,1119.9 159.0,1116.6 C161.2,1113.2 166.9,1107.8 165.7,1104.7 C164.6,1101.6 158.1,1099.9 152.2,1098.0 C146.3,1096.0 136.2,1095.4 130.3,1092.9 C124.4,1090.4 117.3,1085.9 116.8,1082.8Z" fill="#fff" stroke="#28aed0" stroke-width="1.4"></path>
<path d="M135,1088 Q160,1078 185,1082 Q205,1095 215,1112 Q190,1118 170,1108 Q160,1096 135,1088Z" fill="#dff0f7" opacity="0.9"></path>
<path d="M230,1062 Q255,1072 282,1084 Q262,1090 245,1092Z" fill="#e6f4f9" opacity="0.9"></path>
<g fill="#f0fbff" stroke="#2fb4d8" stroke-width="1.1"><ellipse cx="154" cy="1029.5" rx="5.9" ry="10.5" transform="rotate(15 154 1041)"></ellipse><ellipse cx="154" cy="1029.5" rx="5.9" ry="10.5" transform="rotate(75 154 1041)"></ellipse><ellipse cx="154" cy="1029.5" rx="5.9" ry="10.5" transform="rotate(135 154 1041)"></ellipse><ellipse cx="154" cy="1029.5" rx="5.9" ry="10.5" transform="rotate(195 154 1041)"></ellipse><ellipse cx="154" cy="1029.5" rx="5.9" ry="10.5" transform="rotate(255 154 1041)"></ellipse><ellipse cx="154" cy="1029.5" rx="5.9" ry="10.5" transform="rotate(315 154 1041)"></ellipse><ellipse cx="277" cy="1039.1" rx="5.0" ry="9.0" transform="rotate(-10 277 1049)"></ellipse><ellipse cx="277" cy="1039.1" rx="5.0" ry="9.0" transform="rotate(50 277 1049)"></ellipse><ellipse cx="277" cy="1039.1" rx="5.0" ry="9.0" transform="rotate(110 277 1049)"></ellipse><ellipse cx="277" cy="1039.1" rx="5.0" ry="9.0" transform="rotate(170 277 1049)"></ellipse><ellipse cx="277" cy="1039.1" rx="5.0" ry="9.0" transform="rotate(230 277 1049)"></ellipse><ellipse cx="277" cy="1039.1" rx="5.0" ry="9.0" transform="rotate(290 277 1049)"></ellipse></g>
<g fill="#f0fbff" stroke="#2fb4d8" stroke-width="1.1"><ellipse cx="154" cy="1036.0" rx="2.5" ry="4.5" transform="rotate(45 154 1041)"></ellipse><ellipse cx="154" cy="1036.0" rx="2.5" ry="4.5" transform="rotate(105 154 1041)"></ellipse><ellipse cx="154" cy="1036.0" rx="2.5" ry="4.5" transform="rotate(165 154 1041)"></ellipse><ellipse cx="154" cy="1036.0" rx="2.5" ry="4.5" transform="rotate(225 154 1041)"></ellipse><ellipse cx="154" cy="1036.0" rx="2.5" ry="4.5" transform="rotate(285 154 1041)"></ellipse><ellipse cx="154" cy="1036.0" rx="2.5" ry="4.5" transform="rotate(345 154 1041)"></ellipse><ellipse cx="277" cy="1045.2" rx="2.0" ry="3.5" transform="rotate(20 277 1049)"></ellipse><ellipse cx="277" cy="1045.2" rx="2.0" ry="3.5" transform="rotate(80 277 1049)"></ellipse><ellipse cx="277" cy="1045.2" rx="2.0" ry="3.5" transform="rotate(140 277 1049)"></ellipse><ellipse cx="277" cy="1045.2" rx="2.0" ry="3.5" transform="rotate(200 277 1049)"></ellipse><ellipse cx="277" cy="1045.2" rx="2.0" ry="3.5" transform="rotate(260 277 1049)"></ellipse><ellipse cx="277" cy="1045.2" rx="2.0" ry="3.5" transform="rotate(320 277 1049)"></ellipse></g>
<path d="M212,1010 Q220,998 238,1000 Q252,1006 255,1025 Q258,1048 246,1055 Q228,1055 218,1040 Q208,1025 212,1010Z" fill="#f0fbff" stroke="#2fb4d8" stroke-width="1.2"></path>
<g stroke="#2fb4d8" stroke-width="1" fill="none"><path d="M218,1008 L250,1048"></path><path d="M240,1003 L222,1048"></path><path d="M212,1028 L255,1030"></path><path d="M222,1015 L230,1012 M232,1040 L242,1044 M245,1020 L250,1014"></path></g>
<circle cx="198.7" cy="1065" r="22.5" fill="#d9261f" stroke="#1aa0c8" stroke-width="1.1"></circle>
<circle cx="228.2" cy="1093.8" r="22.5" fill="#d9261f" stroke="#1aa0c8" stroke-width="1.1"></circle>
<circle cx="205" cy="1072" r="14" fill="#c01a18" opacity="0.5"></circle><circle cx="234" cy="1101" r="14" fill="#c01a18" opacity="0.5"></circle>
<ellipse cx="187" cy="1072" rx="6" ry="4" fill="#f29080" opacity="0.7"></ellipse><ellipse cx="216" cy="1101" rx="6" ry="4" fill="#f29080" opacity="0.7"></ellipse>
<g fill="#3caa2a" stroke="#2a5a1a" stroke-width="0.6"><path d="M186,1054 L200,1057 L213,1050 L207,1061 L214,1069 L201,1064 L192,1071 L195,1061Z"></path><path d="M215,1083 L229,1086 L242,1079 L236,1090 L243,1098 L230,1093 L221,1100 L224,1090Z"></path></g>
<path d="M200,1057 Q200,1046 207,1041" stroke="#3caa2a" stroke-width="3" fill="none"></path>
<path d="M229,1086 Q229,1075 236,1070" stroke="#3caa2a" stroke-width="3" fill="none"></path>
<!-- phone -->
<path d="M406,1001 Q406,996 411,995 L459,992.7 Q463.5,992.5 463.5,997 L466.4,1112 Q466.4,1117 461,1118 L411,1124 Q406.4,1124.3 406.4,1119Z" fill="#b9c0c8" stroke="#151515" stroke-width="2"></path>
<path d="M410,1003 L460,998 L462,1113 L411,1119Z" fill="#1e1e1e"></path>
<defs><clipPath id="scr"><path d="M413,1006 L459,1001 L460.5,1111 L413.5,1116Z"></path></clipPath></defs>
<g clip-path="url(#scr)">
<rect x="410" y="995" width="55" height="125" fill="#3a3a3a"></rect>
<rect x="410" y="995" width="55" height="40" fill="#c3a8dc"></rect>
<path d="M410,1030 Q436,1040 465,1030 L465,1040 Q436,1050 410,1040Z" fill="#6e3fa8"></path>
<path d="M410,1040 Q436,1050 465,1040 L465,1060 L410,1060Z" fill="#f2f0f4"></path>
<path d="M410,1048 L465,1043 L465,1075 L410,1075Z" fill="#e65a6a"></path>
<path d="M448,1060 L465,1055 L465,1120 L450,1120Z" fill="#f29ac4"></path>
<path d="M413,1120 L413,1065 Q416,1050 422,1050 L428,1058 Q438,1056 446,1058 L452,1048 Q458,1052 456,1068 Q460,1078 462,1085 L452,1120Z" fill="#3a3a3a"></path>
<path d="M424,1062 L428,1060 L428,1066Z M432,1059 L437,1058 L436,1064Z M440,1059 L445,1060 L443,1066Z" fill="#aaa"></path>
<circle cx="444" cy="1080" r="2.2" fill="#111" stroke="#fff" stroke-width="0.6"></circle>
<circle cx="421" cy="1086" r="1.6" fill="#f4a0b0"></circle><circle cx="446" cy="1088" r="1.6" fill="#f4a0b0"></circle>
<path d="M442,1098 L445,1105 L452,1108 L445,1111 L442,1118 L439,1111 L432,1108 L439,1105Z" fill="#fff"></path>
<path d="M426,1109 L427.5,1112 L431,1113.5 L427.5,1115 L426,1118 L424.5,1115 L421,1113.5 L424.5,1112Z" fill="#fff"></path>
<path d="M428,1030 L430,1035 L435,1037 L430,1039 L428,1044 L426,1039 L421,1037 L426,1035Z" fill="#fff"></path>
<path d="M449,1044 L451.5,1050 L457,1052 L451.5,1054 L449,1060 L446.5,1054 L441,1052 L446.5,1050Z" fill="#fff"></path>
</g>
<path d="M425,1004.5 L446,1002.5 Q446,1006 442,1006.5 L429,1008 Q425,1008 425,1004.5Z" fill="#111"></path>
<!-- tshirt + jeans -->
<path d="M657.3,1019.9 Q665,1024 673.5,1021.8 L687.2,1029.2 L694.7,1042.9 L684.7,1049.8 L677.2,1089.6 L638.7,1085.2 L641.8,1044.8 L632.4,1034.8 L644.9,1023Z" fill="#707075" stroke="#4a4a50" stroke-width="0.8"></path><path d="M657.3,1019.9 Q665,1027 673.5,1021.8" fill="none" stroke="#505055" stroke-width="2"></path><path d="M641.8,1044.8 L644,1036 M684.7,1049.8 L683,1040" stroke="#5a5a60" stroke-width="1"></path>
<path d="M688,1016 L719.6,1002.5 L722,1010 L729.5,1090 L730,1094 L716,1097 L708,1040 L706.5,1101 L704,1104 L690.5,1104.5 L689.5,1060Z" fill="#215c8c" stroke="#163a5a" stroke-width="0.9"></path>
<path d="M688,1016 L719.6,1002.5 L721.5,1011 L689,1025Z" fill="#123a5e"></path>
<path d="M692,1095 L705,1094 M717,1088 L729,1086" stroke="#4a86b4" stroke-width="1.2"></path>
<!-- washing machine + label -->
<path d="M865.8,1021 L905.1,1045.1 L905.1,1101.6 L866.5,1083.7Z" fill="#efefef" stroke="#1a1a1a" stroke-width="1.2"></path>
<path d="M905.1,1045.1 L939.6,1023 L941.6,1086.4 L905.1,1101.6Z" fill="#d2d2d4" stroke="#1a1a1a" stroke-width="1.2"></path>
<path d="M865.8,1021 L903,998.3 L939.6,1023 L905.1,1045.1Z" fill="#f7f7f7" stroke="#1a1a1a" stroke-width="1.2"></path>
<ellipse cx="884" cy="1064" rx="15" ry="20" transform="rotate(-20 884 1064)" fill="#9ea3a8"></ellipse>
<ellipse cx="885" cy="1064" rx="11" ry="15" transform="rotate(-20 885 1064)" fill="#32b4d8"></ellipse>
<ellipse cx="883" cy="1061" rx="4" ry="6" transform="rotate(-20 883 1061)" fill="#aee0ef"></ellipse>
<circle cx="880" cy="1036" r="1.8" fill="#3bb0d8"></circle><circle cx="888" cy="1040" r="2.2" fill="#3bb0d8"></circle>
<path d="M918.9,996.9 L992.6,992.8 L994,1075.4 L918.9,1071.3Z" fill="#fff" stroke="#3aa0dc" stroke-width="1.5"></path>
<path d="M921,999 L991,995 L991,1011 L921,1014Z" fill="#3aa6e0"></path>
<rect x="921.5" y="999.5" width="19" height="14" fill="#1f3f9a"></rect>
<g fill="#fff"><circle cx="980" cy="999.5" r="2.2"></circle><circle cx="986" cy="999.5" r="2.2"></circle><circle cx="980" cy="1006" r="2.2"></circle><circle cx="986" cy="1006" r="2.2"></circle></g>
<text x="944" y="1008" font-family="Liberation Sans" font-weight="bold" font-size="8" fill="#fff">ENERG</text>
<g>
<path d="M922,1020 L947,1020 L950,1023 L947,1026 L922,1026Z" fill="#1aa04a"></path>
<path d="M922,1027 L950,1027 L953,1030 L950,1033 L922,1033Z" fill="#4cb030"></path>
<path d="M922,1034 L953,1034 L956,1037 L953,1040 L922,1040Z" fill="#9ac82a"></path>
<path d="M922,1041 L956,1041 L959,1044 L956,1047 L922,1047Z" fill="#f2e10a"></path>
<path d="M922,1048 L959,1048 L962,1051 L959,1054 L922,1054Z" fill="#f7b20a"></path>
<path d="M922,1055 L962,1055 L965,1058 L962,1061 L922,1061Z" fill="#ee6a12"></path>
<path d="M922,1062 L965,1062 L968,1065 L965,1068 L922,1068Z" fill="#e52020"></path>
</g>
<path d="M972,1029 L976,1023 L992,1023 L992,1035 L976,1035Z" fill="#111"></path>
<!-- schema interactif icon -->
<path d="M848,1189 L853.5,1192.5 L848,1196Z" fill="#1d4f7c"></path>
<rect x="974.5" y="1173.8" width="40.5" height="26" rx="3.5" fill="#fff" stroke="#e8631a" stroke-width="4.4"></rect>
<circle cx="994.7" cy="1173.5" r="1.3" fill="#fff"></circle>
<path d="M967.8,1202.8 L1021,1202.8 L1021,1207 Q1021,1211.6 1016.5,1211.6 L972.3,1211.6 Q967.8,1211.6 967.8,1207Z" fill="#e8631a"></path>
<g fill="none" stroke="#1d3f6a" stroke-width="2.6" stroke-linecap="round">
<path d="M984.8,1183.2 Q995,1175 1005.2,1183.2"></path>
<path d="M988.6,1187.2 Q995,1182 1001.4,1187.2"></path>
</g>
<path d="M991.5,1190.5 Q995,1188 998.5,1190.5 L995,1194.5Z" fill="#1d3f6a"></path>

<!-- section 3 -->
<path d="M86,1258 L86,1232 Q86,1217.4 101,1217.4 L427.6,1217.4 Q447.6,1217.4 447.6,1237.4 L447.6,1258Z" fill="#9e2c7a"></path>
<path d="M447,1256.5 L986,1256.5 A52,52 0 0 1 1038,1308.5 L1038,1436.5 L137,1436.5 A50,50 0 0 1 87,1386.5 L87,1256" fill="none" stroke="#9a2470" stroke-width="2.2"></path>
<rect x="105" y="1279" width="74" height="10.5" fill="url(#lineg)"></rect>
<rect x="178" y="1279" width="720" height="10.5" fill="#5bc3ef"></rect>
<circle cx="190" cy="1284.3" r="11.5" fill="#9aa9b3" stroke="#fff" stroke-width="2.5"></circle>
<circle cx="437.3" cy="1284" r="11.5" fill="#9e2c7a" stroke="#fff" stroke-width="2.5"></circle>
<circle cx="665.6" cy="1284.5" r="11.5" fill="#9aa9b3" stroke="#fff" stroke-width="2.5"></circle>
<circle cx="898.1" cy="1283.5" r="11.5" fill="#5bc3ef" stroke="#fff" stroke-width="2.5"></circle>
<rect x="123" y="1306.6" width="133.7" height="20.5" rx="10.2" fill="#a3b1ba"></rect>
<rect x="369.1" y="1305.6" width="133.2" height="21.6" rx="10.8" fill="#9e2c7a"></rect>
<rect x="609.9" y="1306" width="112" height="21" rx="10.5" fill="#a3b1ba"></rect>
<path d="M772.7,1424.2 L772.7,1333 Q772.7,1317.8 788,1317.8 L1027.3,1317.8 L1027.3,1409 Q1027.3,1424.2 1012,1424.2Z" fill="#5bc3ef"></path>
<rect x="820.5" y="1308" width="161.5" height="20" rx="10" fill="#fff" stroke="#5bc3ef" stroke-width="2"></rect>
<!--S2-->
</svg>

<!-- TEXT -->
<div class="t w" style="font-size: 28px; -webkit-text-stroke: 0.1px rgb(255, 255, 255); left: 697px; top: 71.69px; transform: scaleX(0.9711);">Je retiens par l'image</div>
<div class="t" style="font-size: 22.5px; left: 274px; top: 139.35px; transform: scaleX(1.061);">Ressources naturelles pour la production d’énergie</div>
<div class="t w" style="font-size: 18.6px; left: 170px; top: 192.95px; transform: scaleX(0.9437);">Non renouvelables</div>
<div class="t w" style="font-size: 18.6px; left: 828px; top: 193.25px; transform: scaleX(0.9448);">Renouvelables</div>

<div class="t" style="font-size: 18.5px; left: 494.8px; top: 235.54px; transform: scaleX(0.9337);">Formes d’énergie</div>
<div class="t" style="font-size: 18.5px; left: 524.5px; top: 259.94px; transform: scaleX(0.9725);">utilisables</div>
<div class="t" style="font-size: 16px; left: 511.8px; top: 296.85px; transform: scaleX(0.9074);">Électricité</div>
<div class="t" style="font-size: 16px; left: 511.8px; top: 318.75px; transform: scaleX(0.8862);">Chaleur</div>
<div class="t" style="font-size: 16px; left: 511.8px; top: 341.85px; transform: scaleX(0.8929);">Énergie mécanique</div>

<div class="t" style="font-size: 19px; left: 523px; top: 448.21px; transform: scaleX(0.9473);">Utilisation</div>
<div class="t" style="font-size: 15.5px; left: 494.4px; top: 485.88px; transform: scaleX(0.931);">Appareils électroniques</div>
<div class="t" style="font-size: 15.5px; left: 494.4px; top: 508.68px; transform: scaleX(0.8919);">Chauffage</div>
<div class="t" style="font-size: 15.5px; left: 494.4px; top: 531.38px; transform: scaleX(0.9036);">Véhicules</div>

<div class="t r" style="font-size: 13px; -webkit-text-stroke: 0.2px rgb(20, 20, 20); left: 267.2px; top: 603.59px; transform: scaleX(0.9007);">Fortement émettrice de CO<span style="font-size:8px;vertical-align:-2px">2</span> (gaz à effet de serre)</div>
<div class="t r" style="font-size: 13px; -webkit-text-stroke: 0.2px rgb(20, 20, 20); left: 267.2px; top: 645.19px; transform: scaleX(0.9414);">Pollution de l’air</div>
<div class="t r" style="font-size: 13px; -webkit-text-stroke: 0.2px rgb(20, 20, 20); left: 583.3px; top: 603.49px; transform: scaleX(0.9261);">Risques liés à la radioactivité des installations et des déchets</div>
<div class="t r" style="font-size: 13px; -webkit-text-stroke: 0.2px rgb(20, 20, 20); left: 583.3px; top: 644.39px; transform: scaleX(0.9255);">Ressource disponible par intermittence</div>

<div class="t" style="font-size: 22.5px; left: 370px; top: 722.95px; transform: scaleX(1.0678);">Économiser l’énergie au quotidien</div>
<div class="t w" style="font-size: 19.5px; left: 238.3px; top: 792.29px; transform: scaleX(0.8762);">Consommer moins...</div>
<div class="t w" style="font-size: 19.5px; left: 741.6px; top: 792.29px; transform: scaleX(0.8912);">Gaspiller moins</div>

<div class="t" style="font-size: 15.5px; left: 161.9px; top: 930.78px; transform: scaleX(0.8221);">... de transports</div>
<div class="t" style="font-size: 15.5px; left: 147px; top: 948.88px; transform: scaleX(0.8132);">utilisant des sources</div>
<div class="t" style="font-size: 15.5px; left: 158.9px; top: 967.58px; transform: scaleX(0.8289);">d’énergie fossile</div>
<div class="t" style="font-size: 15.5px; left: 390.1px; top: 949.48px; transform: scaleX(0.8038);">... de chauffage</div>
<div class="t" style="font-size: 15.5px; left: 387.5px; top: 967.58px; transform: scaleX(0.8463);">et climatisation</div>
<div class="t" style="font-size: 15.5px; left: 622.8px; top: 968.08px; transform: scaleX(0.8361);">Isoler les logements</div>
<div class="t" style="font-size: 15.5px; left: 829.8px; top: 949.58px; transform: scaleX(0.8328);">Ne pas jeter les appareils</div>
<div class="t" style="font-size: 15.5px; left: 855px; top: 967.88px; transform: scaleX(0.8485);">qui fonctionnent</div>
<div class="t" style="font-size: 15.5px; left: 131px; top: 1129.68px; transform: scaleX(0.809);">... de légumes hors saison</div>
<div class="t" style="font-size: 15.5px; left: 386px; top: 1128.88px; transform: scaleX(0.8245);">... de numérique</div>
<div class="t" style="font-size: 15.5px; left: 604.6px; top: 1111.48px; transform: scaleX(0.8304);">Ne pas jeter les vêtements</div>
<div class="t" style="font-size: 15.5px; left: 650px; top: 1129.58px; transform: scaleX(0.8491);">en bon état</div>
<div class="t" style="font-size: 15.5px; left: 823px; top: 1111.48px; transform: scaleX(0.8229);">Choisir de l’électroménager</div>
<div class="t" style="font-size: 15.5px; left: 878.9px; top: 1129.58px; transform: scaleX(0.8169);">économe</div>

<div class="t" style="font-size: 14px; color: rgb(29, 79, 124); left: 857.6px; top: 1184.55px; transform: scaleX(0.891);">Schéma interactif</div>
<div class="t r" style="font-size: 14px; color: rgb(232, 99, 26); left: 821.5px; top: 1200.85px; transform: scaleX(0.8691);">flashbelin.fr/svtcycle4-121</div>

<div class="t w" style="font-size: 28px; -webkit-text-stroke: 0.1px rgb(255, 255, 255); left: 108.7px; top: 1221.79px; transform: scaleX(0.9338);">Je me situe dans le cycle</div>
<div class="t w" style="font-size: 14px; left: 134.9px; top: 1309.25px; transform: scaleX(0.9287);">Étape précédente</div>
<div class="t w" style="font-size: 14px; left: 381.1px; top: 1309.35px; transform: scaleX(0.9134);">Étape du chapitre</div>
<div class="t w" style="font-size: 14px; left: 619.6px; top: 1309.15px; transform: scaleX(0.9107);">Étape suivante</div>
<div class="t" style="font-size: 14px; color: rgb(26, 163, 217); left: 831px; top: 1310.95px; transform: scaleX(0.9102);">Objectif de fin de cycle</div>

<div class="t r" style="font-size: 15px; color: rgb(142, 160, 171); -webkit-text-stroke: 0.3px rgb(142, 160, 171); left: 105.6px; top: 1337.9px; transform: scaleX(1.0252);">J’ai découvert les enjeux</div>
<div class="t r" style="font-size: 15px; color: rgb(142, 160, 171); -webkit-text-stroke: 0.3px rgb(142, 160, 171); left: 110.9px; top: 1356.4px; transform: scaleX(1.054);">liés à l’exploitation des</div>
<div class="t r" style="font-size: 15px; color: rgb(142, 160, 171); -webkit-text-stroke: 0.3px rgb(142, 160, 171); left: 114.8px; top: 1375.6px; transform: scaleX(1.0223);">ressources naturelles.</div>

<div class="t" style="font-size: 15.5px; color: rgb(158, 44, 122); -webkit-text-stroke: 0px; left: 342px; top: 1339.28px; transform: scaleX(1.0366);">J’ai découvert, à travers</div>
<div class="t" style="font-size: 15.5px; color: rgb(158, 44, 122); -webkit-text-stroke: 0px; left: 314.4px; top: 1359.18px; transform: scaleX(1.0188);">l’exemple de l’énergie, les choix</div>
<div class="t" style="font-size: 15.5px; color: rgb(158, 44, 122); -webkit-text-stroke: 0px; left: 323.5px; top: 1378.38px; transform: scaleX(1.0136);">sur la gestion des ressources</div>
<div class="t" style="font-size: 15.5px; color: rgb(158, 44, 122); -webkit-text-stroke: 0px; left: 394px; top: 1397.58px; transform: scaleX(1.0409);">naturelles.</div>

<div class="t r" style="font-size: 15px; color: rgb(142, 160, 171); -webkit-text-stroke: 0.3px rgb(142, 160, 171); left: 578.6px; top: 1337.6px; transform: scaleX(1.042);">Je vais découvrir l’impact</div>
<div class="t r" style="font-size: 15px; color: rgb(142, 160, 171); -webkit-text-stroke: 0.3px rgb(142, 160, 171); left: 598.7px; top: 1356.8px; transform: scaleX(1.0067);">des humains sur les</div>
<div class="t r" style="font-size: 15px; color: rgb(142, 160, 171); -webkit-text-stroke: 0.3px rgb(142, 160, 171); left: 619.6px; top: 1376.3px; transform: scaleX(1.0021);">écosystèmes.</div>

<div class="t w" style="font-size: 15.5px; -webkit-text-stroke: 0px; left: 808.1px; top: 1339.38px; transform: scaleX(1.0227);">Avoir compris quelques</div>
<div class="t w" style="font-size: 15.5px; -webkit-text-stroke: 0px; left: 783.3px; top: 1358.38px; transform: scaleX(1.0349);">questions posées par l’impact</div>
<div class="t w" style="font-size: 15.5px; -webkit-text-stroke: 0px; left: 795.5px; top: 1377.38px; transform: scaleX(1.0356);">des activités humaines sur</div>
<div class="t w" style="font-size: 15.5px; -webkit-text-stroke: 0px; left: 833.5px; top: 1396.38px; transform: scaleX(1.0522);">l’environnement.</div>

<div class="t" style="font-size: 14.5px; color: rgb(30, 168, 212); font-family: &quot;Liberation Serif&quot;, serif; letter-spacing: 1.2px; -webkit-text-stroke: 0.5px rgb(30, 168, 212); left: 537.8px; top: 1475.62px; transform: scaleX(0.9716);">CHAPITRE 7</div>
<div class="a" style="left:641.5px;top:1481px;width:6px;height:6px;border-radius:3px;background:#1ea8d4"></div>
<div class="t r" style="font-size: 16px; left: 653.3px; top: 1474.45px; transform: scaleX(1.001);">Les ressources naturelles pour la production d'énergie</div>
<div class="t" style="font-size: 16.5px; left: 1078.8px; top: 1475.33px; transform: scaleX(0.672);">121</div>
<div class="t" style="font-size: 14.3px; left: 217.4px; top: 240.39px; transform: scaleX(0.9057);">Pétrole</div>
<div class="t" style="font-size: 14.3px; left: 214.1px; top: 330.99px; transform: scaleX(0.8591);">Charbon</div>
<div class="t" style="font-size: 14.3px; left: 228.6px; top: 407.89px; transform: scaleX(0.8386);">Gaz</div>
<div class="t" style="font-size: 14.3px; left: 214.1px; top: 497.29px; transform: scaleX(0.8707);">Uranium</div>
<div class="t" style="font-size: 14.3px; left: 837.4px; top: 240.79px; transform: scaleX(0.8585);">Biomasse</div>
<div class="t" style="font-size: 14.3px; left: 831px; top: 334.29px; transform: scaleX(0.8738);">Chute d’eau</div>
<div class="t" style="font-size: 14.3px; left: 853.2px; top: 421.89px; transform: scaleX(0.8807);">Vent</div>
<div class="t" style="font-size: 14.3px; left: 849.3px; top: 508.49px; transform: scaleX(0.9019);">Soleil</div>
<!--T2-->

</body></html>
